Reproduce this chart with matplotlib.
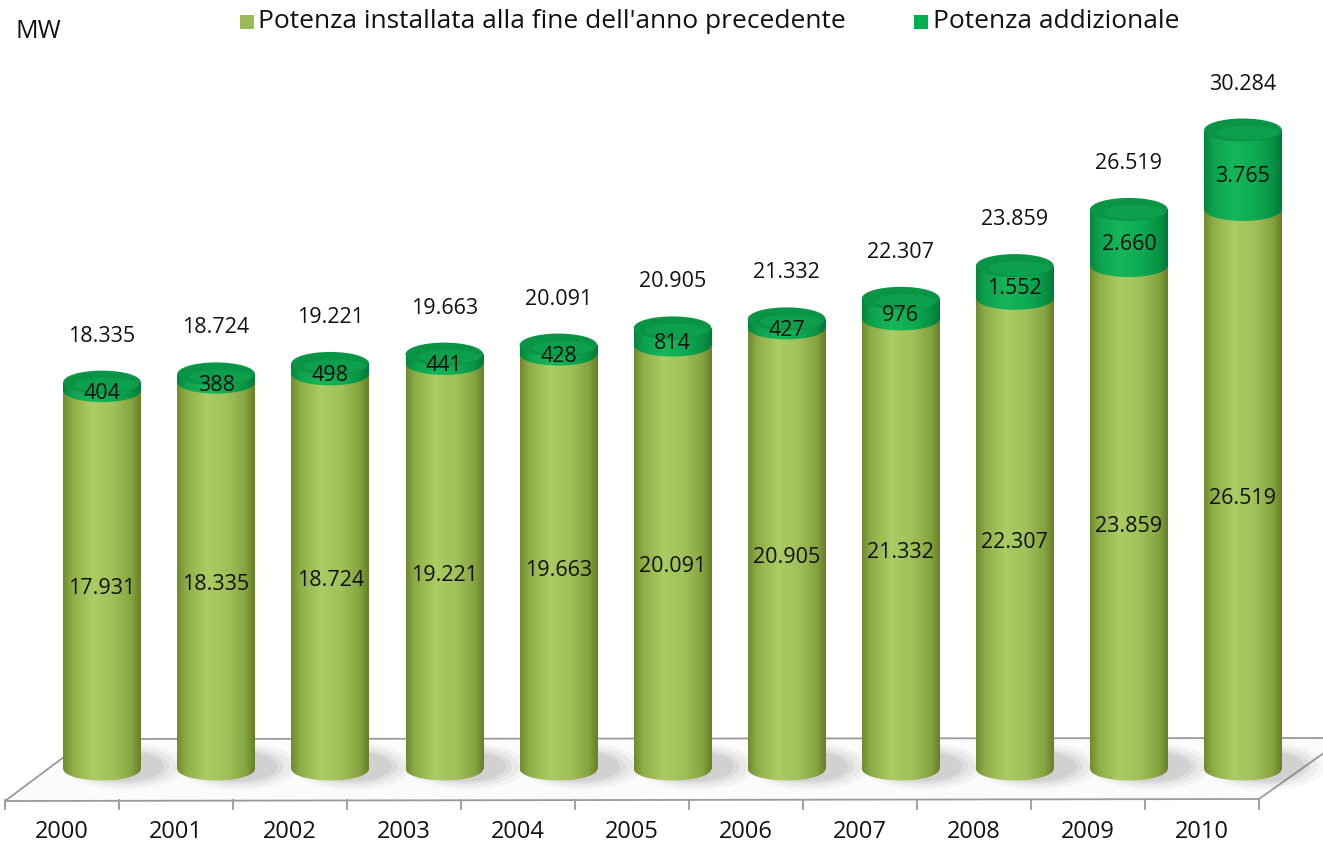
import matplotlib
matplotlib.use("Agg")
import matplotlib.pyplot as plt
import numpy as np
from matplotlib.patches import Ellipse, Rectangle, Polygon
from matplotlib.colors import LinearSegmentedColormap

years = ["2000", "2001", "2002", "2003", "2004", "2005", "2006", "2007", "2008", "2009", "2010"]
base = [17931, 18335, 18724, 19221, 19663, 20091, 20905, 21332, 22307, 23859, 26519]
added = [404, 388, 498, 441, 428, 814, 427, 976, 1552, 2660, 3765]
totals = [18335, 18724, 19221, 19663, 20091, 20905, 21332, 22307, 23859, 26519, 30284]
legend_labels = ["Potenza installata alla fine dell'anno precedente", "Potenza addizionale"]
unit_label = "MW"

plt.rcParams['font.family'] = ['Open Sans', 'DejaVu Sans']

W, H = 1323, 845
fig = plt.figure(figsize=(W / 100, H / 100), dpi=100)
ax = fig.add_axes([0, 0, 1, 1])
ax.axis('off')

# pixel mapping helpers (layout only)
X0, DX = 102.0, 114.1     # bar centre of first category, spacing (px)
Y0, SY = 770.0, 0.0211    # baseline pixel row, px per MW
xlim = (-X0 / DX, (W - X0) / DX)
ylim = ((Y0 - H) / SY, Y0 / SY)


def px(xp, yp):
    return ((xp - X0) / DX, (Y0 - yp) / SY)


bar_w = 0.68
ell_h = 23 / SY

olive = LinearSegmentedColormap.from_list("olive", [
    (0.0, "#6f8b2e"), (0.12, "#8fae48"), (0.38, "#abcb65"),
    (0.65, "#a0c05a"), (0.88, "#86a43f"), (1.0, "#667f28")])
green = LinearSegmentedColormap.from_list("green", [
    (0.0, "#05853c"), (0.12, "#0ea14f"), (0.38, "#15b75a"),
    (0.65, "#0eab52"), (0.88, "#079345"), (1.0, "#04783a")])
grad = np.linspace(0, 1, 256).reshape(1, -1)


def grad_patch(patch, cmap, x, y0, y1, z):
    ax.add_patch(patch)
    patch.set_visible(False)
    im = ax.imshow(grad, cmap=cmap, extent=[x - bar_w / 2, x + bar_w / 2, y0, y1],
                   aspect='auto', zorder=z, interpolation='bilinear')
    im.set_clip_path(patch)


def segment(x, y0, y1, cmap, z):
    rect = Rectangle((x - bar_w / 2, y0), bar_w, y1 - y0, transform=ax.transData)
    grad_patch(rect, cmap, x, y0 - ell_h, y1, z)
    ell = Ellipse((x, y0), bar_w, ell_h, transform=ax.transData)
    grad_patch(ell, cmap, x, y0 - ell_h, y1, z)


# floor
fl = [px(5, 802), px(1259, 800), px(1345, 739), px(88, 740)]
ax.add_patch(Polygon(fl, closed=True, facecolor="#fbfbfb", edgecolor="none", zorder=0))
ax.plot([fl[0][0], fl[1][0]], [fl[0][1], fl[1][1]], color="#9a9a9a", lw=1.3, zorder=1)
ax.plot([fl[1][0], fl[2][0]], [fl[1][1], fl[2][1]], color="#9a9a9a", lw=1.3, zorder=1)
ax.plot([fl[0][0], fl[3][0]], [fl[0][1], fl[3][1]], color="#9a9a9a", lw=1.3, zorder=1)
ax.plot([fl[3][0], fl[2][0]], [fl[3][1], fl[2][1]], color="#9a9a9a", lw=1.3, zorder=1)
for k in range(len(years) + 1):
    a = px(5 + 114.0 * k, 801)
    b = px(5 + 114.0 * k, 810)
    ax.plot([a[0], b[0]], [a[1], b[1]], color="#9a9a9a", lw=1.3, zorder=1)

# shadows
for i in range(len(years)):
    for s, al in [(1.55, 0.05), (1.35, 0.07), (1.15, 0.09), (1.0, 0.1)]:
        ax.add_patch(Ellipse((i + 0.2, 120), bar_w * s, ell_h * s * 1.3,
                             facecolor="#6a6a6a", edgecolor="none", alpha=al, zorder=1.5))

# cylinders
for i in range(len(years)):
    z = 2 + i * 0.01
    segment(i, 0, base[i], olive, z)
    segment(i, base[i], totals[i], green, z + 0.002)
    ax.add_patch(Ellipse((i, totals[i]), bar_w, ell_h, facecolor="#0a9445",
                         edgecolor="none", zorder=z + 0.004))
    ax.add_patch(Ellipse((i + 0.04, totals[i] - ell_h * 0.12), bar_w * 0.8, ell_h * 0.6,
                         facecolor="#12a851", edgecolor="none", alpha=0.6, zorder=z + 0.005))


def fmt(v):
    return f"{v:,}".replace(",", ".")


lab_fs = 15.5
for i in range(len(years)):
    ax.annotate(fmt(totals[i]), (i, totals[i]), xytext=(0, 47), textcoords='offset pixels',
                ha='center', va='center', fontsize=lab_fs, color="#111111", zorder=5)
    ax.annotate(fmt(added[i]), (i, (base[i] + totals[i]) / 2), xytext=(0, -6),
                textcoords='offset pixels', ha='center', va='center', fontsize=lab_fs,
                color="#111111", zorder=5)
    ax.annotate(fmt(base[i]), (i, base[i] / 2), xytext=(0, -8), textcoords='offset pixels',
                ha='center', va='center', fontsize=lab_fs, color="#111111", zorder=5)
    lx, ly = px(62 + 114.0 * i, 832)
    ax.text(lx, ly, years[i], ha='center', va='center', fontsize=17, color="#111111", zorder=5)

# header
ax.text(15 / W, 1 - 31 / H, unit_label, transform=ax.transAxes, ha='left', va='center',
        fontsize=18, color="#111111")
ax.add_patch(Rectangle((240 / W, 1 - 30 / H), 14 / W, 14 / H, transform=ax.transAxes,
                       facecolor="#9bbb59", edgecolor="none"))
ax.text(258 / W, 1 - 22 / H, legend_labels[0], transform=ax.transAxes, ha='left', va='center',
        fontsize=19, color="#111111")
ax.add_patch(Rectangle((914 / W, 1 - 30 / H), 14 / W, 14 / H, transform=ax.transAxes,
                       facecolor="#00b050", edgecolor="none"))
ax.text(933 / W, 1 - 22 / H, legend_labels[1], transform=ax.transAxes, ha='left', va='center',
        fontsize=19, color="#111111")

ax.set_xlim(*xlim)
ax.set_ylim(*ylim)
fig.savefig("out.png", dpi=100)
